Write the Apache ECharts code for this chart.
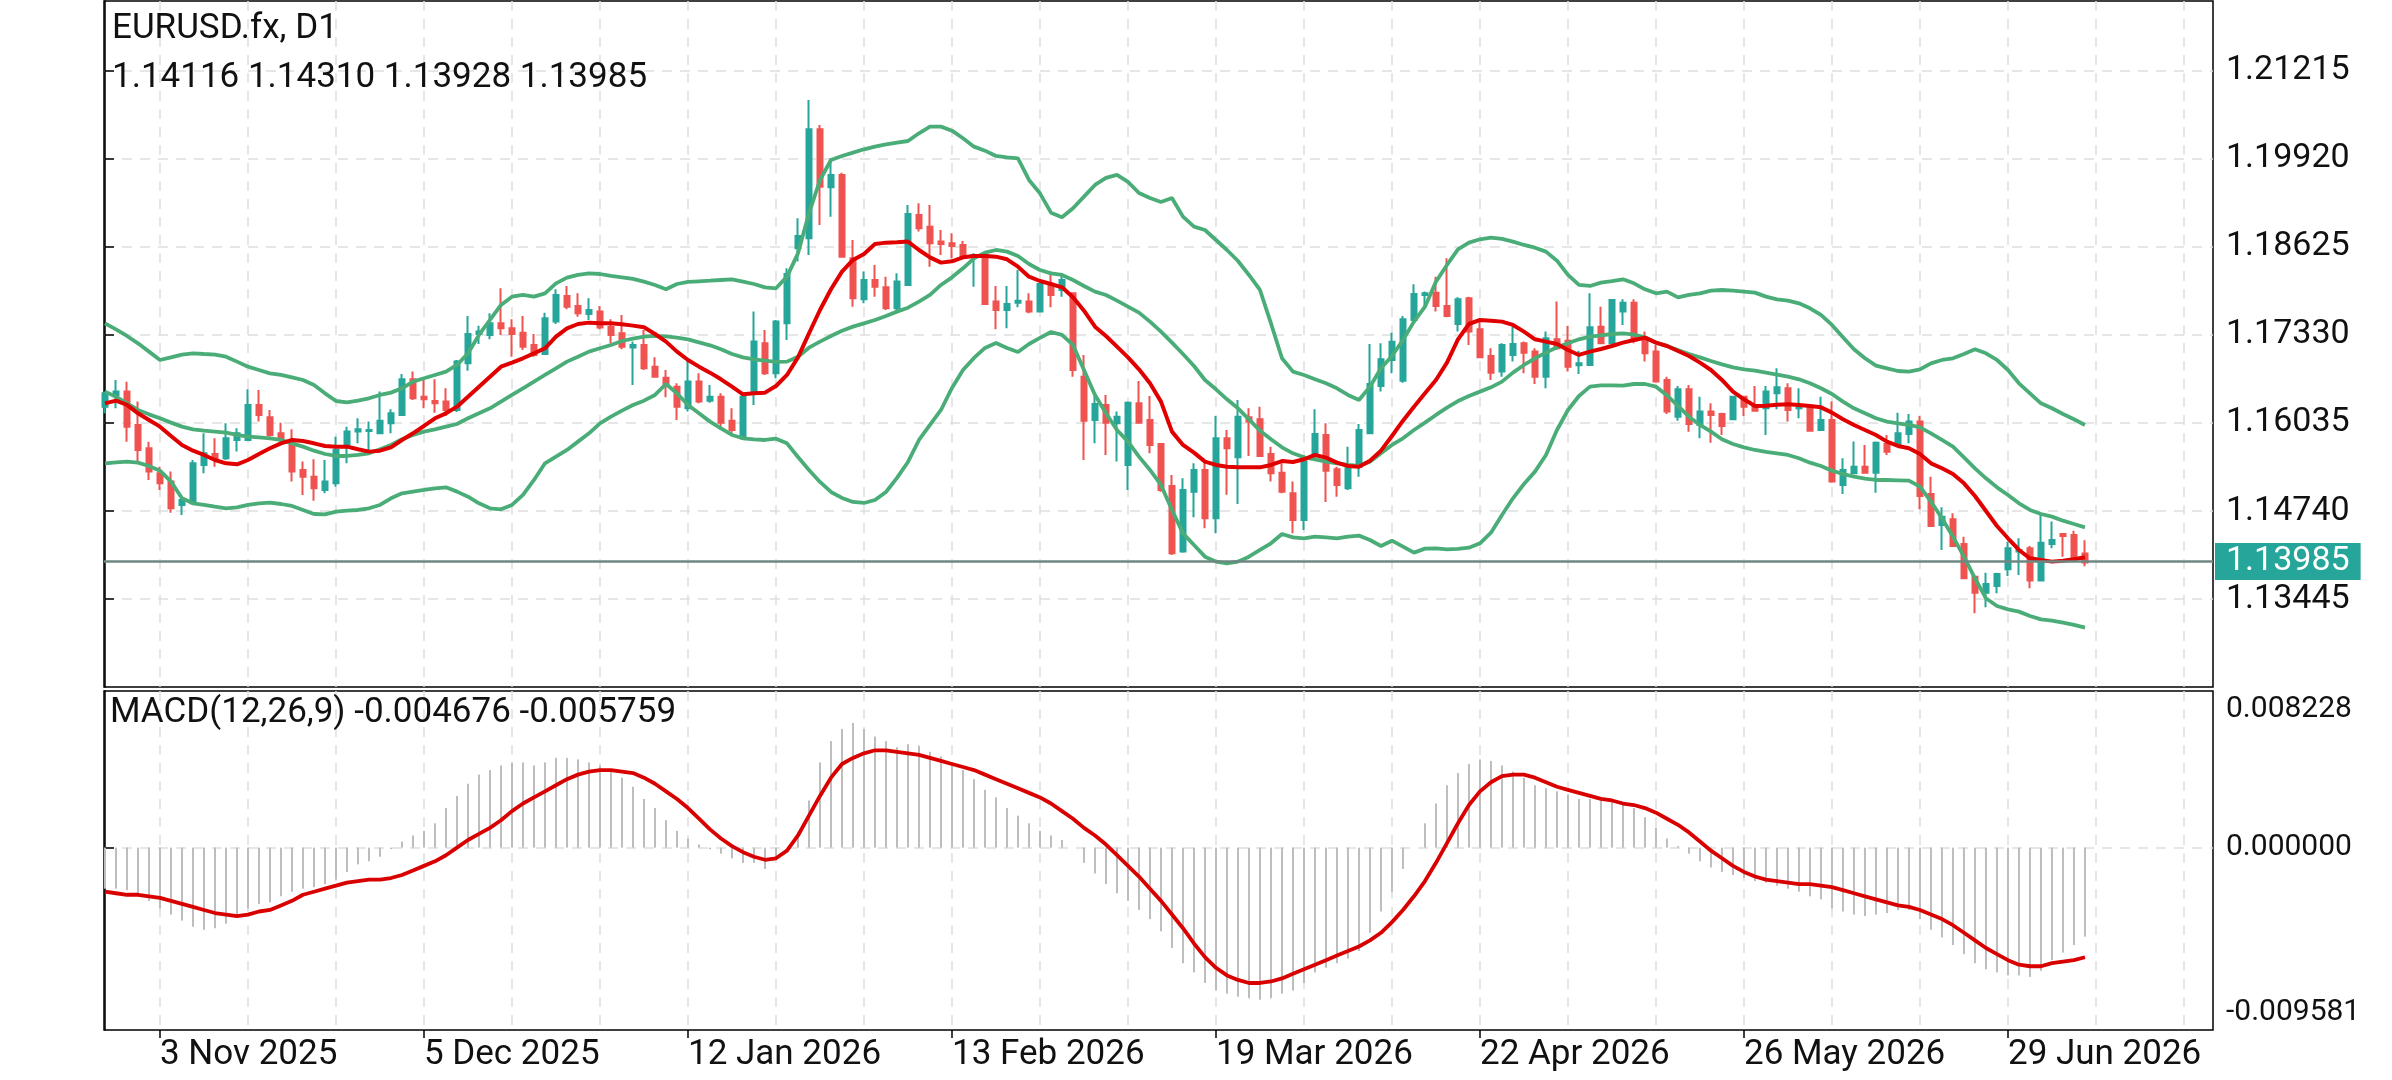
<!DOCTYPE html>
<html>
<head>
<meta charset="utf-8">
<title>EURUSD.fx, D1</title>
<script src="https://cdn.jsdelivr.net/npm/echarts@6.0.0/dist/echarts.min.js"></script>
<style>
  html, body { margin: 0; padding: 0; background: #fff; }
  #chart { width: 2392px; height: 1080px; }
</style>
</head>
<body>
<div id="chart"></div>
<script>
// daily bars, one row per day: [open, close, low, high]
const candles = [
  [1.16275, 1.16471, 1.16177, 1.16496], [1.16447, 1.16496, 1.16251, 1.16667], [1.16496, 1.15981, 1.15760, 1.16642],
  [1.16006, 1.15638, 1.15442, 1.16349], [1.15663, 1.15320, 1.15197, 1.15760], [1.15295, 1.15148, 1.15050, 1.15393],
  [1.15173, 1.14781, 1.14717, 1.15320], [1.14830, 1.14903, 1.14682, 1.14967], [1.14854, 1.15442, 1.14830, 1.15491],
  [1.15417, 1.15589, 1.15295, 1.15883], [1.15579, 1.15516, 1.15393, 1.15810], [1.15516, 1.15810, 1.15491, 1.16030],
  [1.15785, 1.15883, 1.15614, 1.15957], [1.15785, 1.16300, 1.15775, 1.16530], [1.16300, 1.16153, 1.16055, 1.16520],
  [1.16118, 1.15859, 1.15834, 1.16226], [1.15883, 1.15785, 1.15760, 1.16040], [1.15785, 1.15320, 1.15173, 1.15942],
  [1.15344, 1.15246, 1.14977, 1.15467], [1.15246, 1.15075, 1.14893, 1.15501], [1.15050, 1.15173, 1.15001, 1.15491],
  [1.15148, 1.15638, 1.15099, 1.15834], [1.15687, 1.15908, 1.15442, 1.15981], [1.15908, 1.15942, 1.15736, 1.16104],
  [1.15917, 1.15932, 1.15564, 1.16055], [1.15883, 1.16069, 1.15883, 1.16496], [1.16030, 1.16177, 1.15883, 1.16236],
  [1.16153, 1.16677, 1.16153, 1.16755], [1.16677, 1.16398, 1.16373, 1.16790], [1.16422, 1.16383, 1.16251, 1.16677],
  [1.16358, 1.16324, 1.16187, 1.16677], [1.16349, 1.16226, 1.16138, 1.16545], [1.16226, 1.16937, 1.16197, 1.16961],
  [1.16912, 1.17343, 1.16804, 1.17608], [1.17343, 1.17378, 1.17196, 1.17466], [1.17329, 1.17500, 1.17265, 1.17647],
  [1.17500, 1.17427, 1.17329, 1.18015], [1.17427, 1.17343, 1.17010, 1.17559], [1.17363, 1.17157, 1.17108, 1.17608],
  [1.17182, 1.17035, 1.17010, 1.17343], [1.17049, 1.17574, 1.17035, 1.17657], [1.17525, 1.17917, 1.17490, 1.18000],
  [1.17902, 1.17745, 1.17706, 1.18049], [1.17755, 1.17647, 1.17598, 1.17941], [1.17637, 1.17696, 1.17549, 1.17867],
  [1.17672, 1.17440, 1.17412, 1.17755], [1.17451, 1.17329, 1.17206, 1.17559], [1.17353, 1.17157, 1.17118, 1.17622],
  [1.17143, 1.17182, 1.16594, 1.17231], [1.17182, 1.16839, 1.16814, 1.17402], [1.16863, 1.16716, 1.16701, 1.17000],
  [1.16701, 1.16594, 1.16412, 1.16814], [1.16569, 1.16275, 1.16077, 1.16618], [1.16251, 1.16643, 1.16202, 1.16961],
  [1.16643, 1.16349, 1.16324, 1.16765], [1.16363, 1.16422, 1.16334, 1.16594], [1.16422, 1.16040, 1.15932, 1.16471],
  [1.16069, 1.15932, 1.15883, 1.16251], [1.15810, 1.16422, 1.15785, 1.16447], [1.16471, 1.17231, 1.16300, 1.17672],
  [1.17206, 1.16765, 1.16741, 1.17402], [1.16765, 1.17525, 1.16691, 1.17549], [1.17500, 1.18225, 1.17255, 1.18309],
  [1.18602, 1.18784, 1.18407, 1.19044], [1.18750, 1.20352, 1.18505, 1.20783], [1.20352, 1.19509, 1.18946, 1.20416],
  [1.19499, 1.19681, 1.19068, 1.19926], [1.19681, 1.18480, 1.18470, 1.19715], [1.18456, 1.17868, 1.17745, 1.18725],
  [1.17853, 1.18137, 1.17794, 1.18260], [1.18137, 1.18039, 1.17892, 1.18358], [1.18029, 1.17721, 1.17696, 1.18186],
  [1.17721, 1.18113, 1.17647, 1.18235], [1.18064, 1.19107, 1.18049, 1.19240], [1.19093, 1.18897, 1.18848, 1.19264],
  [1.18921, 1.18676, 1.18333, 1.19240], [1.18701, 1.18666, 1.18505, 1.18872], [1.18676, 1.18637, 1.18456, 1.18823],
  [1.18652, 1.18480, 1.18456, 1.18710], [1.18480, 1.18505, 1.18039, 1.18529], [1.18505, 1.17784, 1.17770, 1.18529],
  [1.17819, 1.17696, 1.17412, 1.18049], [1.17696, 1.17784, 1.17427, 1.18049], [1.17804, 1.17833, 1.17735, 1.18284],
  [1.17819, 1.17672, 1.17647, 1.17941], [1.17672, 1.18078, 1.17672, 1.18088], [1.18064, 1.17917, 1.17735, 1.18260],
  [1.17990, 1.18137, 1.17892, 1.18235], [1.17941, 1.16814, 1.16716, 1.17951], [1.16716, 1.16069, 1.15491, 1.17035],
  [1.16079, 1.16314, 1.15736, 1.16471], [1.16300, 1.16040, 1.15565, 1.16447], [1.16030, 1.16128, 1.15467, 1.16202],
  [1.15418, 1.16334, 1.15050, 1.16349], [1.16324, 1.16040, 1.16030, 1.16652], [1.16079, 1.15711, 1.15589, 1.16432],
  [1.15726, 1.15050, 1.15025, 1.15736], [1.15109, 1.14119, 1.14095, 1.15271], [1.14144, 1.15050, 1.14129, 1.15222],
  [1.15025, 1.15344, 1.14648, 1.15442], [1.15344, 1.14634, 1.14487, 1.15467], [1.14634, 1.15810, 1.14413, 1.16138],
  [1.15810, 1.15663, 1.14981, 1.15932], [1.15530, 1.16128, 1.14844, 1.16373], [1.16118, 1.16055, 1.15550, 1.16250],
  [1.16089, 1.15550, 1.15540, 1.16275], [1.15579, 1.15295, 1.15173, 1.15687], [1.15305, 1.15025, 1.15001, 1.15442],
  [1.15001, 1.14609, 1.14413, 1.15173], [1.14609, 1.15467, 1.14462, 1.15565], [1.15565, 1.15873, 1.15516, 1.16236],
  [1.15859, 1.15334, 1.14874, 1.16030], [1.15354, 1.15124, 1.14952, 1.15393], [1.15075, 1.15369, 1.15050, 1.15687],
  [1.15393, 1.15932, 1.15246, 1.16020], [1.15883, 1.16608, 1.15883, 1.17196], [1.16579, 1.16971, 1.16496, 1.17206],
  [1.16961, 1.17230, 1.16765, 1.17363], [1.16657, 1.17559, 1.16628, 1.17608], [1.17549, 1.17931, 1.17539, 1.18073],
  [1.17917, 1.17941, 1.17706, 1.17966], [1.17951, 1.17755, 1.17672, 1.18186], [1.17755, 1.17608, 1.17588, 1.18456],
  [1.17490, 1.17853, 1.17378, 1.17882], [1.17868, 1.17378, 1.17182, 1.17892], [1.17412, 1.17000, 1.16986, 1.17559],
  [1.17020, 1.16775, 1.16667, 1.17133], [1.16790, 1.17182, 1.16716, 1.17206], [1.17035, 1.17196, 1.16937, 1.17451],
  [1.17206, 1.17069, 1.16765, 1.17231], [1.17084, 1.16716, 1.16608, 1.17133], [1.16716, 1.17280, 1.16545, 1.17378],
  [1.17265, 1.17133, 1.17108, 1.17819], [1.17245, 1.16863, 1.16790, 1.17461], [1.16883, 1.16912, 1.16755, 1.17098],
  [1.16888, 1.17441, 1.16873, 1.17941], [1.17451, 1.17206, 1.17196, 1.17745], [1.17206, 1.17843, 1.17196, 1.17853],
  [1.17672, 1.17804, 1.17476, 1.17853], [1.17804, 1.17245, 1.17206, 1.17853], [1.17265, 1.17059, 1.16937, 1.17378],
  [1.17084, 1.16643, 1.16638, 1.17182], [1.16667, 1.16202, 1.16167, 1.16716], [1.16128, 1.16530, 1.16069, 1.16579],
  [1.16530, 1.16020, 1.15907, 1.16594], [1.16006, 1.16202, 1.15810, 1.16422], [1.16202, 1.16153, 1.15746, 1.16324],
  [1.16167, 1.15991, 1.15859, 1.16187], [1.16089, 1.16422, 1.16079, 1.16432], [1.16422, 1.16275, 1.16138, 1.16432],
  [1.16275, 1.16216, 1.16202, 1.16579], [1.16251, 1.16496, 1.15859, 1.16579], [1.16471, 1.16559, 1.16236, 1.16839],
  [1.16545, 1.16226, 1.16055, 1.16618], [1.16251, 1.16275, 1.16104, 1.16545], [1.16251, 1.15922, 1.15917, 1.16260],
  [1.15932, 1.16079, 1.15922, 1.16422], [1.16079, 1.15173, 1.15158, 1.16349], [1.15124, 1.15344, 1.14991, 1.15516],
  [1.15295, 1.15393, 1.15285, 1.15761], [1.15393, 1.15305, 1.15295, 1.15712], [1.15305, 1.15746, 1.15011, 1.15761],
  [1.15726, 1.15613, 1.15564, 1.15859], [1.15726, 1.15883, 1.15726, 1.16187], [1.15873, 1.16055, 1.15736, 1.16167],
  [1.16055, 1.14962, 1.14766, 1.16138], [1.14991, 1.14521, 1.14511, 1.15246], [1.14536, 1.14658, 1.14168, 1.14795],
  [1.14619, 1.14227, 1.14217, 1.14707], [1.14256, 1.13752, 1.13737, 1.14364], [1.13776, 1.13541, 1.13237, 1.13786],
  [1.13541, 1.13668, 1.13325, 1.13835], [1.13639, 1.13815, 1.13531, 1.13835], [1.13884, 1.14193, 1.13786, 1.14290],
  [1.14144, 1.14168, 1.13801, 1.14340], [1.14193, 1.13718, 1.13605, 1.14227], [1.13718, 1.14276, 1.13712, 1.14707],
  [1.14256, 1.14315, 1.14193, 1.14585], [1.14403, 1.14374, 1.14070, 1.14413], [1.14389, 1.14046, 1.14031, 1.14452],
  [1.14116, 1.13985, 1.13928, 1.14310]
];

const bbUpper = [
  1.17500, 1.17412, 1.17314, 1.17206, 1.17084, 1.16961, 1.17000, 1.17040, 1.17059, 1.17049,
  1.17040, 1.17010, 1.16937, 1.16863, 1.16814, 1.16765, 1.16741, 1.16706, 1.16667, 1.16594,
  1.16471, 1.16358, 1.16339, 1.16363, 1.16398, 1.16447, 1.16481, 1.16545, 1.16643, 1.16692,
  1.16741, 1.16790, 1.16888, 1.17059, 1.17329, 1.17549, 1.17770, 1.17892, 1.17917, 1.17892,
  1.17941, 1.18088, 1.18171, 1.18211, 1.18235, 1.18225, 1.18196, 1.18176, 1.18152, 1.18113,
  1.18064, 1.18000, 1.18078, 1.18108, 1.18118, 1.18127, 1.18137, 1.18147, 1.18113, 1.18078,
  1.18029, 1.18015, 1.18186, 1.18529, 1.19117, 1.19607, 1.19901, 1.19960, 1.20009, 1.20058,
  1.20097, 1.20131, 1.20156, 1.20180, 1.20293, 1.20391, 1.20391, 1.20332, 1.20220, 1.20097,
  1.20038, 1.19960, 1.19940, 1.19926, 1.19607, 1.19411, 1.19127, 1.19058, 1.19191, 1.19362,
  1.19534, 1.19637, 1.19681, 1.19578, 1.19416, 1.19342, 1.19284, 1.19342, 1.19068, 1.18921,
  1.18872, 1.18725, 1.18578, 1.18416, 1.18211, 1.17990, 1.17500, 1.16986, 1.16790, 1.16741,
  1.16677, 1.16618, 1.16545, 1.16447, 1.16373, 1.16569, 1.16839, 1.17020, 1.17255, 1.17525,
  1.17745, 1.18113, 1.18358, 1.18588, 1.18686, 1.18735, 1.18759, 1.18740, 1.18701, 1.18652,
  1.18612, 1.18554, 1.18421, 1.18211, 1.18064, 1.18049, 1.18098, 1.18122, 1.18147, 1.18088,
  1.18000, 1.17941, 1.17966, 1.17882, 1.17917, 1.17941, 1.17980, 1.17990, 1.17980, 1.17966,
  1.17951, 1.17892, 1.17853, 1.17833, 1.17794, 1.17721, 1.17623, 1.17476, 1.17294, 1.17118,
  1.16986, 1.16878, 1.16839, 1.16799, 1.16790, 1.16824, 1.16912, 1.16961, 1.16986, 1.17049,
  1.17118, 1.17059, 1.16961, 1.16814, 1.16618, 1.16471, 1.16324, 1.16251, 1.16167, 1.16089,
  1.16006
];

const bbMiddle = [
  1.16496, 1.16422, 1.16324, 1.16226, 1.16162, 1.16104, 1.16040, 1.15981, 1.15942, 1.15922,
  1.15908, 1.15893, 1.15859, 1.15834, 1.15824, 1.15810, 1.15785, 1.15736, 1.15687, 1.15628,
  1.15579, 1.15550, 1.15550, 1.15565, 1.15589, 1.15648, 1.15712, 1.15795, 1.15859, 1.15908,
  1.15942, 1.15981, 1.16020, 1.16104, 1.16177, 1.16251, 1.16349, 1.16447, 1.16545, 1.16643,
  1.16741, 1.16839, 1.16937, 1.17010, 1.17084, 1.17133, 1.17182, 1.17240, 1.17275, 1.17304,
  1.17314, 1.17309, 1.17289, 1.17265, 1.17221, 1.17177, 1.17118, 1.17049, 1.17000, 1.16971,
  1.16951, 1.16932, 1.16937, 1.17010, 1.17142, 1.17231, 1.17314, 1.17392, 1.17451, 1.17500,
  1.17549, 1.17608, 1.17672, 1.17730, 1.17819, 1.17917, 1.18064, 1.18176, 1.18309, 1.18456,
  1.18539, 1.18578, 1.18554, 1.18490, 1.18372, 1.18284, 1.18235, 1.18211, 1.18137, 1.18049,
  1.17966, 1.17917, 1.17833, 1.17745, 1.17657, 1.17525, 1.17378, 1.17216, 1.17049, 1.16873,
  1.16667, 1.16530, 1.16383, 1.16251, 1.16089, 1.15922, 1.15795, 1.15677, 1.15589, 1.15530,
  1.15501, 1.15467, 1.15442, 1.15418, 1.15403, 1.15467, 1.15589, 1.15712, 1.15810, 1.15932,
  1.16040, 1.16153, 1.16260, 1.16358, 1.16432, 1.16496, 1.16559, 1.16643, 1.16775, 1.16888,
  1.16986, 1.17069, 1.17147, 1.17206, 1.17265, 1.17304, 1.17324, 1.17343, 1.17353, 1.17334,
  1.17294, 1.17216, 1.17167, 1.17108, 1.17049, 1.17000, 1.16946, 1.16897, 1.16853, 1.16824,
  1.16804, 1.16775, 1.16746, 1.16716, 1.16677, 1.16618, 1.16545, 1.16461, 1.16349, 1.16251,
  1.16177, 1.16104, 1.16055, 1.16030, 1.16006, 1.15971, 1.15883, 1.15785, 1.15687, 1.15530,
  1.15369, 1.15222, 1.15089, 1.14977, 1.14854, 1.14756, 1.14697, 1.14658, 1.14599, 1.14550,
  1.14501
];

const bbLower = [
  1.15442, 1.15457, 1.15467, 1.15452, 1.15403, 1.15334, 1.15173, 1.14928, 1.14854, 1.14830,
  1.14805, 1.14781, 1.14795, 1.14830, 1.14854, 1.14864, 1.14844, 1.14815, 1.14756, 1.14697,
  1.14692, 1.14732, 1.14746, 1.14756, 1.14781, 1.14830, 1.14928, 1.15001, 1.15026, 1.15050,
  1.15075, 1.15089, 1.15026, 1.14952, 1.14854, 1.14781, 1.14766, 1.14830, 1.14977, 1.15197,
  1.15442, 1.15540, 1.15638, 1.15761, 1.15883, 1.16030, 1.16128, 1.16216, 1.16300, 1.16363,
  1.16447, 1.16608, 1.16471, 1.16300, 1.16177, 1.16055, 1.15957, 1.15859, 1.15810, 1.15795,
  1.15785, 1.15805, 1.15736, 1.15535, 1.15344, 1.15168, 1.15021, 1.14933, 1.14874, 1.14859,
  1.14903, 1.15021, 1.15227, 1.15462, 1.15785, 1.16006, 1.16226, 1.16550, 1.16814, 1.16991,
  1.17138, 1.17211, 1.17138, 1.17079, 1.17196, 1.17285, 1.17373, 1.17329, 1.17182, 1.16814,
  1.16447, 1.16177, 1.15932, 1.15761, 1.15540, 1.15344, 1.15124, 1.14756, 1.14413, 1.14242,
  1.14070, 1.13997, 1.13972, 1.13997, 1.14070, 1.14168, 1.14266, 1.14403, 1.14354, 1.14340,
  1.14364, 1.14354, 1.14340, 1.14364, 1.14379, 1.14315, 1.14227, 1.14305, 1.14217, 1.14129,
  1.14188, 1.14193, 1.14178, 1.14183, 1.14202, 1.14266, 1.14423, 1.14683, 1.14928, 1.15138,
  1.15320, 1.15565, 1.15932, 1.16226, 1.16432, 1.16569, 1.16589, 1.16589, 1.16584, 1.16608,
  1.16608, 1.16569, 1.16442, 1.16285, 1.16128, 1.16006, 1.15908, 1.15795, 1.15726, 1.15677,
  1.15638, 1.15609, 1.15589, 1.15565, 1.15516, 1.15452, 1.15403, 1.15334, 1.15285, 1.15246,
  1.15217, 1.15197, 1.15197, 1.15192, 1.15187, 1.15099, 1.14879, 1.14634, 1.14364, 1.14070,
  1.13752, 1.13458, 1.13345, 1.13296, 1.13262, 1.13198, 1.13149, 1.13129, 1.13100, 1.13066,
  1.13026
];

const maRed = [
  1.16324, 1.16363, 1.16300, 1.16177, 1.16079, 1.15981, 1.15844, 1.15712, 1.15628, 1.15565,
  1.15491, 1.15442, 1.15427, 1.15491, 1.15579, 1.15663, 1.15736, 1.15785, 1.15770, 1.15736,
  1.15697, 1.15687, 1.15687, 1.15648, 1.15614, 1.15628, 1.15677, 1.15785, 1.15883, 1.15991,
  1.16104, 1.16177, 1.16275, 1.16422, 1.16569, 1.16716, 1.16863, 1.16922, 1.16986, 1.17059,
  1.17133, 1.17304, 1.17427, 1.17490, 1.17510, 1.17500, 1.17500, 1.17485, 1.17466, 1.17441,
  1.17343, 1.17231, 1.17084, 1.16961, 1.16863, 1.16775, 1.16677, 1.16569, 1.16456, 1.16471,
  1.16481, 1.16579, 1.16741, 1.17000, 1.17353, 1.17696, 1.18000, 1.18260, 1.18431, 1.18519,
  1.18666, 1.18686, 1.18691, 1.18701, 1.18578, 1.18470, 1.18392, 1.18412, 1.18470, 1.18490,
  1.18490, 1.18480, 1.18441, 1.18333, 1.18186, 1.18122, 1.18078, 1.18029, 1.17882, 1.17686,
  1.17451, 1.17314, 1.17157, 1.17000, 1.16824, 1.16618, 1.16349, 1.15908, 1.15712, 1.15599,
  1.15467, 1.15418, 1.15393, 1.15383, 1.15383, 1.15383, 1.15418, 1.15476, 1.15462, 1.15501,
  1.15565, 1.15525, 1.15452, 1.15403, 1.15393, 1.15481, 1.15628, 1.15844, 1.16069, 1.16275,
  1.16471, 1.16667, 1.16922, 1.17265, 1.17490, 1.17549, 1.17539, 1.17525, 1.17476, 1.17378,
  1.17265, 1.17231, 1.17196, 1.17108, 1.17035, 1.17084, 1.17123, 1.17167, 1.17216, 1.17255,
  1.17289, 1.17216, 1.17167, 1.17093, 1.17020, 1.16922, 1.16814, 1.16667, 1.16496, 1.16383,
  1.16285, 1.16290, 1.16304, 1.16309, 1.16300, 1.16285, 1.16265, 1.16187, 1.16089, 1.16006,
  1.15932, 1.15859, 1.15761, 1.15697, 1.15663, 1.15579, 1.15442, 1.15369, 1.15285, 1.15148,
  1.14962, 1.14741, 1.14521, 1.14340, 1.14168, 1.14046, 1.14021, 1.13997, 1.14011, 1.14031,
  1.14060
];

// MACD(12,26,9): main line drawn as histogram, signal as red line
const macdMain = [
  -0.002157, -0.002157, -0.002237, -0.002477, -0.002797, -0.003196, -0.003516, -0.003835, -0.004155, -0.004315,
  -0.004235, -0.003995, -0.003596, -0.003196, -0.002956, -0.002876, -0.002557, -0.002317, -0.002157, -0.002077,
  -0.001918, -0.001678, -0.001278, -0.000879, -0.000719, -0.000479, -0.000080, 0.000320, 0.000639, 0.000879,
  0.001278, 0.002077, 0.002717, 0.003356, 0.003835, 0.004075, 0.004315, 0.004474, 0.004474, 0.004315,
  0.004474, 0.004714, 0.004714, 0.004634, 0.004474, 0.004315, 0.003995, 0.003675, 0.003196, 0.002557,
  0.002077, 0.001438, 0.000879, 0.000479, 0.000160, -0.000080, -0.000320, -0.000559, -0.000799, -0.000799,
  -0.001119, -0.000559, 0.000000, 0.000799, 0.002477, 0.004474, 0.005593, 0.006232, 0.006552, 0.006232,
  0.005833, 0.005593, 0.005273, 0.005433, 0.005353, 0.005034, 0.004794, 0.004474, 0.004075, 0.003596,
  0.003036, 0.002637, 0.002077, 0.001678, 0.001278, 0.000879, 0.000639, 0.000400, 0.000000, -0.000799,
  -0.001358, -0.001918, -0.002397, -0.002797, -0.003276, -0.003755, -0.004395, -0.005273, -0.006072, -0.006552,
  -0.007111, -0.007511, -0.007670, -0.007830, -0.007910, -0.007990, -0.007910, -0.007670, -0.007511, -0.007111,
  -0.006552, -0.006312, -0.006072, -0.005833, -0.005433, -0.004474, -0.003356, -0.002317, -0.001119, 0.000000,
  0.001278, 0.002317, 0.003276, 0.003915, 0.004395, 0.004634, 0.004554, 0.004315, 0.003995, 0.003675,
  0.003276, 0.003116, 0.002956, 0.002797, 0.002557, 0.002557, 0.002557, 0.002397, 0.002317, 0.002077,
  0.001598, 0.001039, 0.000479, 0.000080, -0.000320, -0.000719, -0.001039, -0.001278, -0.001438, -0.001598,
  -0.001758, -0.001838, -0.001998, -0.002157, -0.002317, -0.002557, -0.002717, -0.003196, -0.003356, -0.003516,
  -0.003596, -0.003516, -0.003436, -0.003276, -0.003276, -0.003755, -0.004315, -0.004714, -0.005114, -0.005593,
  -0.006072, -0.006392, -0.006552, -0.006712, -0.006712, -0.006792, -0.006472, -0.005913, -0.005513, -0.005114,
  -0.004676
];

const macdSignal = [
  -0.002317, -0.002397, -0.002477, -0.002477, -0.002557, -0.002637, -0.002797, -0.002956, -0.003116, -0.003276,
  -0.003436, -0.003516, -0.003596, -0.003516, -0.003356, -0.003276, -0.003036, -0.002797, -0.002477, -0.002317,
  -0.002157, -0.001998, -0.001838, -0.001758, -0.001678, -0.001678, -0.001598, -0.001438, -0.001199, -0.000959,
  -0.000719, -0.000400, 0.000000, 0.000400, 0.000719, 0.001039, 0.001438, 0.001918, 0.002317, 0.002637,
  0.002956, 0.003276, 0.003596, 0.003835, 0.003995, 0.004075, 0.004075, 0.003995, 0.003915, 0.003675,
  0.003356, 0.002956, 0.002557, 0.002077, 0.001518, 0.000959, 0.000479, 0.000080, -0.000240, -0.000479,
  -0.000639, -0.000559, -0.000160, 0.000639, 0.001678, 0.002717, 0.003675, 0.004395, 0.004714, 0.004954,
  0.005114, 0.005114, 0.005034, 0.004954, 0.004874, 0.004714, 0.004554, 0.004395, 0.004235, 0.004075,
  0.003835, 0.003596, 0.003356, 0.003116, 0.002876, 0.002637, 0.002317, 0.001918, 0.001518, 0.001039,
  0.000639, 0.000160, -0.000400, -0.000959, -0.001518, -0.002157, -0.002797, -0.003516, -0.004235, -0.005034,
  -0.005753, -0.006312, -0.006712, -0.006951, -0.007111, -0.007111, -0.007031, -0.006871, -0.006632, -0.006392,
  -0.006152, -0.005913, -0.005673, -0.005433, -0.005194, -0.004874, -0.004474, -0.003915, -0.003276, -0.002557,
  -0.001758, -0.000799, 0.000240, 0.001278, 0.002237, 0.002956, 0.003436, 0.003755, 0.003835, 0.003835,
  0.003675, 0.003436, 0.003196, 0.003036, 0.002876, 0.002717, 0.002557, 0.002477, 0.002317, 0.002237,
  0.002077, 0.001838, 0.001518, 0.001199, 0.000799, 0.000320, -0.000160, -0.000559, -0.000959, -0.001278,
  -0.001518, -0.001678, -0.001758, -0.001838, -0.001918, -0.001918, -0.001998, -0.002077, -0.002237, -0.002397,
  -0.002557, -0.002717, -0.002876, -0.003036, -0.003116, -0.003276, -0.003516, -0.003755, -0.004075, -0.004474,
  -0.004874, -0.005273, -0.005593, -0.005913, -0.006152, -0.006232, -0.006232, -0.006072, -0.005992, -0.005913,
  -0.005759
];

const priceTicks = [1.13445, 1.14740, 1.16035, 1.17330, 1.18625, 1.19920, 1.21215];
const macdTicks = [-0.009581, 0, 0.008228];
const dateTicks = [5, 29, 53, 77, 101, 125, 149, 173];   // bar index of each date label
const dateLabels = ['3 Nov 2025', '5 Dec 2025', '12 Jan 2026', '13 Feb 2026',
                    '19 Mar 2026', '22 Apr 2026', '26 May 2026', '29 Jun 2026'];
const lastPrice = 1.13985;
const headerTitle = 'EURUSD.fx, D1';
const headerOHLC = '1.14116 1.14310 1.13928 1.13985';
const headerMacd = 'MACD(12,26,9) -0.004676 -0.005759';

// ---- layout ----
const X_MIN = -0.09;
const X_MAX = 191.64;           // leaves the empty space after the last bar
const gridCols = [];            // dashed vertical grid every 8 bars
for (let i = 5; i < X_MAX; i += 8) gridCols.push(i);

const dashed = { color: '#dedede', width: 1.5, type: [10, 8] };
const FONT = 'Roboto';
const BB_GREEN = '#4aad78';

const toXY = arr => arr.map((v, i) => [i, v]);

const chart = echarts.init(document.getElementById('chart'));

const option = {
  animation: false,
  backgroundColor: '#ffffff',
  textStyle: { fontFamily: FONT },
  grid: [
    { left: 104, right: 179, top: 1, height: 686, show: true, borderColor: '#000', borderWidth: 1.5 },
    { left: 104, right: 179, top: 691, height: 339, show: true, borderColor: '#000', borderWidth: 1.5 }
  ],
  xAxis: [
    {
      gridIndex: 0, type: 'value', min: X_MIN, max: X_MAX,
      axisLine: { show: false },
      axisTick: { show: false, customValues: gridCols },
      axisLabel: { show: false },
      splitLine: { show: true, lineStyle: dashed }
    },
    {
      gridIndex: 1, type: 'value', min: X_MIN, max: X_MAX,
      axisLine: { show: false },
      axisTick: { show: false, customValues: gridCols },
      axisLabel: { show: false },
      splitLine: { show: true, lineStyle: dashed }
    },
    {
      gridIndex: 1, type: 'value', min: X_MIN, max: X_MAX, position: 'bottom',
      axisLine: { show: false },
      axisTick: { show: true, customValues: dateTicks, length: 8, lineStyle: { color: '#000', width: 1.5 } },
      axisLabel: {
        show: true, customValues: dateTicks,
        formatter: v => dateLabels[dateTicks.indexOf(Math.round(v))] || '',
        align: 'left', fontSize: 35, color: '#111', margin: 8, fontFamily: FONT
      },
      splitLine: { show: false }
    }
  ],
  yAxis: [
    {
      gridIndex: 0, type: 'value', position: 'right', min: 1.12154, max: 1.22238,
      axisLine: { show: true, lineStyle: { color: '#000', width: 1.5 } },
      axisTick: { show: true, customValues: priceTicks, length: 9, lineStyle: { color: '#000', width: 1.5 } },
      axisLabel: {
        customValues: priceTicks, formatter: v => v.toFixed(5),
        fontSize: 34, color: '#111', margin: 13, fontFamily: FONT
      },
      splitLine: { show: true, lineStyle: dashed }
    },
    {
      gridIndex: 1, type: 'value', position: 'right', min: -0.009581, max: 0.008228,
      axisLine: { show: true, lineStyle: { color: '#000', width: 1.5 } },
      axisTick: { show: true, customValues: [0], length: 9, lineStyle: { color: '#000', width: 1.5 } },
      axisLabel: {
        customValues: macdTicks,
        // top label sits under the frame, bottom label above it
        formatter: v => {
          const s = v.toFixed(6);
          if (v > 0) return '\n' + s;
          if (v < 0) return s + '\n';
          return s;
        },
        fontSize: 30, lineHeight: 36, color: '#111', margin: 13, fontFamily: FONT
      },
      splitLine: { show: true, lineStyle: dashed }
    }
  ],
  graphic: [
    { type: 'text', left: 112, top: 12, z: 100, style: { text: headerTitle, font: '35px Roboto', fill: '#111' } },
    { type: 'text', left: 112, top: 61, z: 100, style: { text: headerOHLC, font: '35px Roboto', fill: '#111' } },
    { type: 'text', left: 110, top: 696, z: 100, style: { text: headerMacd, font: '35px Roboto', fill: '#111' } }
  ],
  series: [
    {
      name: 'EURUSD', type: 'candlestick', xAxisIndex: 0, yAxisIndex: 0,
      data: candles.map((c, i) => [i, c[0], c[1], c[2], c[3]]),
      barWidth: 5,
      itemStyle: {
        color: '#26a69a', color0: '#ef5350',
        borderColor: '#26a69a', borderColor0: '#ef5350', borderWidth: 2
      },
      emphasis: { disabled: true },
      z: 2,
      markLine: {
        silent: true, symbol: ['none', 'none'], animation: false,
        lineStyle: { color: '#6f8782', width: 2.5, type: 'solid' },
        label: {
          show: true, position: 'end', distance: 2,
          formatter: () => lastPrice.toFixed(5),
          color: '#fff', backgroundColor: '#26a69a',
          fontSize: 34, fontFamily: FONT, lineHeight: 36, padding: [1, 11, 0, 11]
        },
        data: [{ yAxis: lastPrice }]
      }
    },
    {
      name: 'BB upper', type: 'line', xAxisIndex: 0, yAxisIndex: 0, data: toXY(bbUpper),
      symbol: 'none', lineStyle: { color: BB_GREEN, width: 3.8 }, z: 3, emphasis: { disabled: true }
    },
    {
      name: 'BB middle', type: 'line', xAxisIndex: 0, yAxisIndex: 0, data: toXY(bbMiddle),
      symbol: 'none', lineStyle: { color: BB_GREEN, width: 3.8 }, z: 3, emphasis: { disabled: true }
    },
    {
      name: 'BB lower', type: 'line', xAxisIndex: 0, yAxisIndex: 0, data: toXY(bbLower),
      symbol: 'none', lineStyle: { color: BB_GREEN, width: 3.8 }, z: 3, emphasis: { disabled: true }
    },
    {
      name: 'MA', type: 'line', xAxisIndex: 0, yAxisIndex: 0, data: toXY(maRed),
      symbol: 'none', lineStyle: { color: '#e00000', width: 4 }, z: 4, emphasis: { disabled: true }
    },
    {
      name: 'MACD', type: 'bar', xAxisIndex: 1, yAxisIndex: 1, data: toXY(macdMain),
      barWidth: 2, itemStyle: { color: '#bdbdbd' }, z: 2, emphasis: { disabled: true }
    },
    {
      name: 'Signal', type: 'line', xAxisIndex: 1, yAxisIndex: 1, data: toXY(macdSignal),
      symbol: 'none', lineStyle: { color: '#d90000', width: 3.8 }, z: 3, emphasis: { disabled: true }
    }
  ]
};

chart.setOption(option);
</script>
</body>
</html>
